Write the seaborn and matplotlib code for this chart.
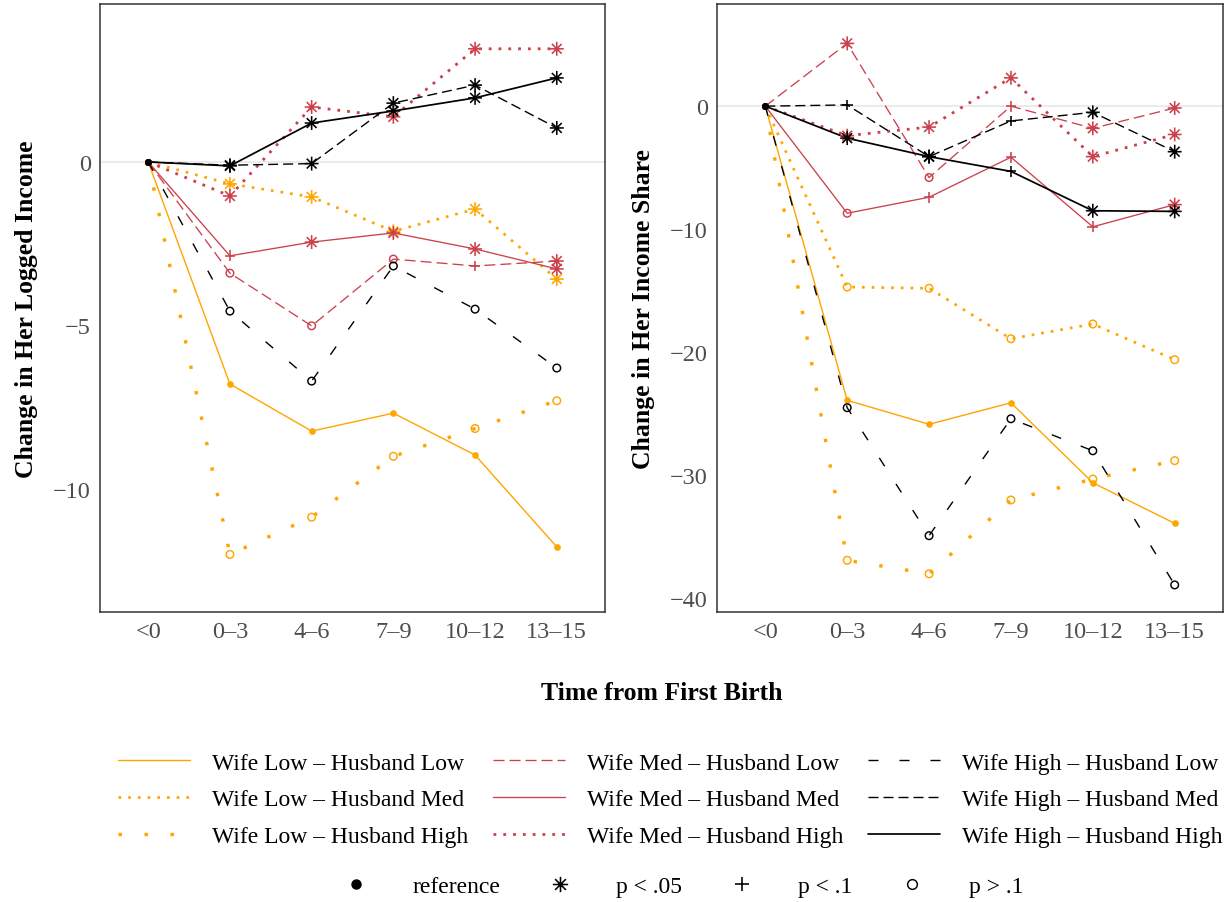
import numpy as np
import pandas as pd
import matplotlib
matplotlib.use("Agg")
import matplotlib.pyplot as plt
from matplotlib.path import Path
from matplotlib.lines import Line2D
import seaborn as sns

# ========== DATA ==========
PERIODS = ["<0", "0–3", "4–6", "7–9", "10–12", "13–15"]
GROUPS = [
    "Wife Low – Husband Low", "Wife Low – Husband Med", "Wife Low – Husband High",
    "Wife Med – Husband Low", "Wife Med – Husband Med", "Wife Med – Husband High",
    "Wife High – Husband Low", "Wife High – Husband Med", "Wife High – Husband High",
]

# change in her logged income
INCOME = {
    "Wife Low – Husband Low":   [0, -6.79, -8.23, -7.68, -8.96, -11.77],
    "Wife Low – Husband Med":   [0, -0.67, -1.07, -2.12, -1.44, -3.58],
    "Wife Low – Husband High":  [0, -12.0, -10.86, -9.0, -8.15, -7.3],
    "Wife Med – Husband Low":   [0, -3.40, -5.01, -2.97, -3.18, -3.03],
    "Wife Med – Husband Med":   [0, -2.87, -2.45, -2.17, -2.66, -3.27],
    "Wife Med – Husband High":  [0, -1.04, 1.68, 1.38, 3.46, 3.46],
    "Wife High – Husband Low":  [0, -4.56, -6.70, -3.18, -4.50, -6.30],
    "Wife High – Husband Med":  [0, -0.10, -0.05, 1.80, 2.35, 1.04],
    "Wife High – Husband High": [0, -0.12, 1.19, 1.56, 1.96, 2.57],
}
INCOME_SIG = {
    "Wife Low – Husband Low":   ["ref", "ref", "ref", "ref", "ref", "ref"],
    "Wife Low – Husband Med":   ["ref", "p05", "p05", "p05", "p05", "p05"],
    "Wife Low – Husband High":  ["ref", "ns", "ns", "ns", "ns", "ns"],
    "Wife Med – Husband Low":   ["ref", "ns", "ns", "ns", "p10", "p05"],
    "Wife Med – Husband Med":   ["ref", "p10", "p05", "p05", "p05", "p05"],
    "Wife Med – Husband High":  ["ref", "p05", "p05", "p05", "p05", "p05"],
    "Wife High – Husband Low":  ["ref", "ns", "ns", "ns", "ns", "ns"],
    "Wife High – Husband Med":  ["ref", "p05", "p05", "p05", "p05", "p05"],
    "Wife High – Husband High": ["ref", "p05", "p05", "p05", "p05", "p05"],
}

# change in her income share
SHARE = {
    "Wife Low – Husband Low":   [0, -23.9, -25.85, -24.1, -30.6, -33.9],
    "Wife Low – Husband Med":   [0, -14.7, -14.8, -18.9, -17.7, -20.6],
    "Wife Low – Husband High":  [0, -36.9, -38.0, -32.0, -30.3, -28.8],
    "Wife Med – Husband Low":   [0, 5.1, -5.8, 0.0, -1.8, -0.15],
    "Wife Med – Husband Med":   [0, -8.7, -7.4, -4.15, -9.8, -8.0],
    "Wife Med – Husband High":  [0, -2.4, -1.7, 2.3, -4.1, -2.3],
    "Wife High – Husband Low":  [0, -24.5, -34.9, -25.4, -28.0, -38.9],
    "Wife High – Husband Med":  [0, 0.1, -4.1, -1.2, -0.5, -3.7],
    "Wife High – Husband High": [0, -2.6, -4.1, -5.3, -8.5, -8.55],
}
SHARE_SIG = {
    "Wife Low – Husband Low":   ["ref", "ref", "ref", "ref", "ref", "ref"],
    "Wife Low – Husband Med":   ["ref", "ns", "ns", "ns", "ns", "ns"],
    "Wife Low – Husband High":  ["ref", "ns", "ns", "ns", "ns", "ns"],
    "Wife Med – Husband Low":   ["ref", "p05", "ns", "p10", "p05", "p05"],
    "Wife Med – Husband Med":   ["ref", "ns", "p10", "p10", "p10", "p05"],
    "Wife Med – Husband High":  ["ref", "p05", "p05", "p05", "p05", "p05"],
    "Wife High – Husband Low":  ["ref", "ns", "ns", "ns", "ns", "ns"],
    "Wife High – Husband Med":  ["ref", "p10", "p05", "p10", "p05", "p05"],
    "Wife High – Husband High": ["ref", "p05", "p05", "p10", "p05", "p05"],
}

SIG_LABELS = {"ref": "reference", "p05": "p < .05", "p10": "p < .1", "ns": "p > .1"}

# ========== STYLE ==========
ORANGE = "#FFA500"
RED = "#CB414B"
BLACK = "#000000"
PX = 0.72  # points per pixel at dpi 100

# group -> (colour, linewidth pt, linestyle)
LINE_STYLE = {
    "Wife Low – Husband Low":   (ORANGE, 1.0, "-"),
    "Wife Low – Husband Med":   (ORANGE, 2.7 * PX, (0, (2.7 * PX, 7.0 * PX))),
    "Wife Low – Husband High":  (ORANGE, 3.4 * PX, (0, (3.4 * PX, 22.6 * PX))),
    "Wife Med – Husband Low":   (RED, 0.95, (0, (11 * PX, 5 * PX))),
    "Wife Med – Husband Med":   (RED, 0.95, "-"),
    "Wife Med – Husband High":  (RED, 2.8 * PX, (0, (2.8 * PX, 7.0 * PX))),
    "Wife High – Husband Low":  (BLACK, 1.0, (0, (10 * PX, 21 * PX))),
    "Wife High – Husband Med":  (BLACK, 1.0, (0, (10 * PX, 5 * PX))),
    "Wife High – Husband High": (BLACK, 1.25, "-"),
}

# ggplot-like asterisk (shape 8): + and x overlaid
_ang = np.deg2rad([0, 45, 90, 135])
_verts, _codes = [], []
for a in _ang:
    _verts += [(-np.cos(a), -np.sin(a)), (np.cos(a), np.sin(a))]
    _codes += [Path.MOVETO, Path.LINETO]
STAR = Path(_verts, _codes)

# sig -> (marker, size, linewidth, hollow, legend markersize)
MARKERS = {
    "ref": ("o", 20, 0.0, False, 6.5),
    "p05": (STAR, 100, 1.15, True, 11),
    "p10": ("+", 60, 1.15, True, 10),
    "ns": ("o", 30, 1.05, True, 7),
}


def make_frame(values, sigs):
    rows = []
    for g in GROUPS:
        for p, v, s in zip(PERIODS, values[g], sigs[g]):
            rows.append({"period": p, "value": v, "group": g, "sig": s})
    return pd.DataFrame(rows)


def draw_panel(ax, df, ylabel, ylim, yticks):
    ax.axhline(0, color="#EBEBEB", linewidth=1.5, zorder=0)
    for g in GROUPS:
        color, lw, ls = LINE_STYLE[g]
        sub = df[df["group"] == g]
        sns.lineplot(data=sub, x="period", y="value", color=color, linewidth=lw,
                     linestyle=ls, errorbar=None, sort=False, ax=ax, zorder=2)
    for g in GROUPS:
        color = LINE_STYLE[g][0]
        for sig, (marker, size, mlw, hollow, _) in MARKERS.items():
            sub = df[(df["group"] == g) & (df["sig"] == sig)]
            if sub.empty:
                continue
            sns.scatterplot(data=sub, x="period", y="value", marker=marker, s=size,
                            color=color, ax=ax, zorder=3, legend=False)
            coll = ax.collections[-1]
            if hollow:
                coll.set_facecolor("none")
                coll.set_edgecolor(color)
                coll.set_linewidth(mlw)
            else:
                coll.set_facecolor(color)
                coll.set_edgecolor(color)
                coll.set_linewidth(0.3)

    ax.set_xlim(-0.59, 5.59)
    ax.set_ylim(*ylim)
    ax.set_yticks(yticks)
    ax.set_xlabel("")
    ax.set_ylabel(ylabel, fontsize=18.5, fontweight="bold", labelpad=11, color="black")
    ax.tick_params(axis="both", labelsize=17.5, labelcolor="#4D4D4D", color="#333333",
                   length=3.6, width=1.0, direction="out", pad=3)
    for sp in ax.spines.values():
        sp.set_visible(True)
        sp.set_color("#333333")
        sp.set_linewidth(1.1)
    ax.grid(False)


sns.set_style("white")
plt.rcParams["font.family"] = ["Liberation Serif", "DejaVu Serif"]
plt.rcParams["lines.scale_dashes"] = False
plt.rcParams["text.color"] = "black"

fig = plt.figure(figsize=(12.25, 9.03), dpi=100)
ax1 = fig.add_axes([100 / 1225, 1 - 613 / 903, 505 / 1225, 608 / 903])
ax2 = fig.add_axes([717 / 1225, 1 - 613 / 903, 506 / 1225, 608 / 903])

draw_panel(ax1, make_frame(INCOME, INCOME_SIG), "Change in Her Logged Income",
           (-13.76, 4.83), [0, -5, -10])
draw_panel(ax2, make_frame(SHARE, SHARE_SIG), "Change in Her Income Share",
           (-41.1, 8.3), [0, -10, -20, -30, -40])

fig.text(662 / 1225, 1 - 694 / 903, "Time from First Birth", ha="center", va="center",
         fontsize=18.5, fontweight="bold", color="black")

# line-type legend
line_handles = []
for g in GROUPS:
    color, lw, ls = LINE_STYLE[g]
    line_handles.append(Line2D([], [], color=color, linewidth=lw, linestyle=ls))
fig.legend(line_handles, GROUPS, ncol=3, loc="upper left",
           bbox_to_anchor=(118 / 1225, 1 - 753 / 903), frameon=False, fontsize=17,
           handlelength=3.05, handletextpad=0.93, columnspacing=1.04,
           labelspacing=0.65, borderpad=0, borderaxespad=0, labelcolor="black")

# marker legend
mk_handles = []
for sig, (marker, size, mlw, hollow, ms) in MARKERS.items():
    if hollow:
        mk_handles.append(Line2D([], [], linestyle="none", marker=marker, markersize=ms,
                                 markerfacecolor="none", markeredgecolor=BLACK,
                                 markeredgewidth=mlw))
    else:
        mk_handles.append(Line2D([], [], linestyle="none", marker=marker, markersize=ms,
                                 markerfacecolor=BLACK, markeredgecolor=BLACK))
fig.legend(mk_handles, [SIG_LABELS[k] for k in MARKERS], ncol=4, loc="center left",
           bbox_to_anchor=(332 / 1225, 1 - 887 / 903), frameon=False, fontsize=17,
           handlelength=2.0, handletextpad=1.4, columnspacing=1.52,
           borderpad=0, borderaxespad=0, labelcolor="black")

fig.savefig("out.png", dpi=100)
